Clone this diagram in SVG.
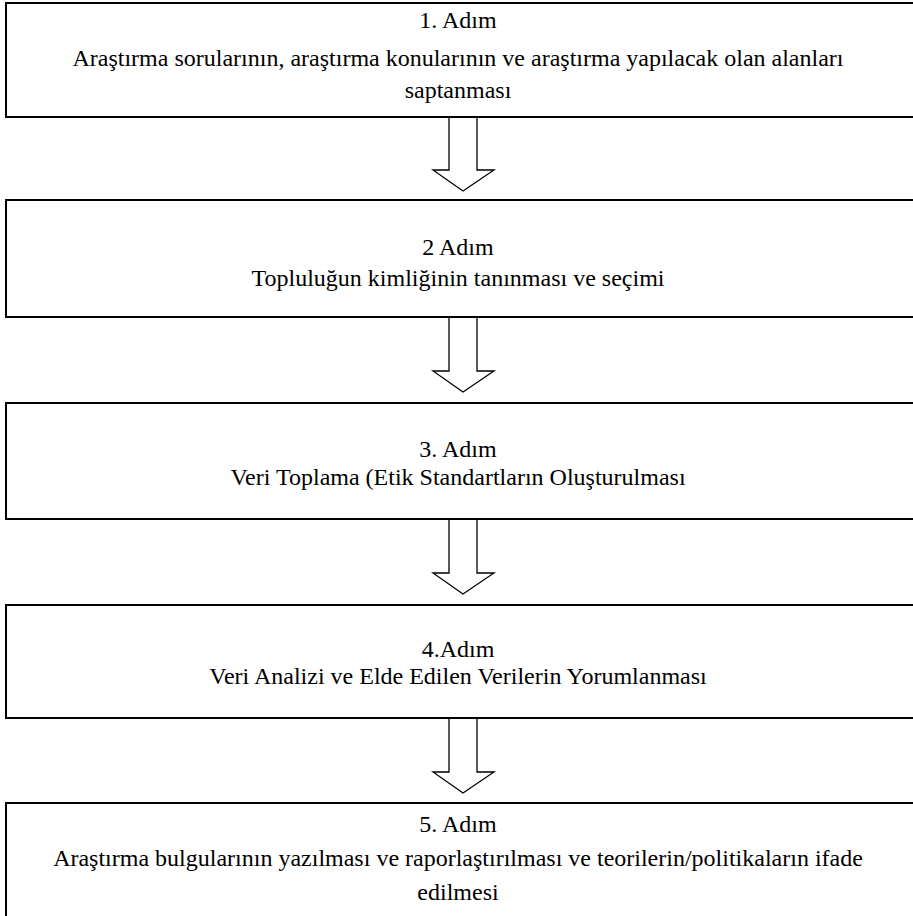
<svg xmlns="http://www.w3.org/2000/svg" width="913" height="916" viewBox="0 0 913 916">
  <style>
    .box { fill: #ffffff; stroke: #000000; stroke-width: 2; }
    .arrow { fill: #ffffff; stroke: #000000; stroke-width: 1.3; stroke-linejoin: miter; }
    text { font-family: "Liberation Serif", "Times New Roman", serif; font-size: 24px; fill: #000000; text-anchor: middle; }
  </style>
  <defs>
    <!-- hollow block arrow pointing down, origin at top centre of the shaft -->
    <path id="down" d="M -14 0 L -14 53 L -30 53 L 0 74 L 31 53 L 14 53 L 14 0"/>
  </defs>
  <rect width="913" height="916" fill="#ffffff"/>

  <g id="connectors">
    <use href="#down" class="arrow" x="463" y="117"/>
    <use href="#down" class="arrow" x="463" y="318"/>
    <use href="#down" class="arrow" x="463" y="520"/>
    <use href="#down" class="arrow" x="463" y="719"/>
  </g>

  <g id="step1">
    <rect class="box" x="6" y="3" width="910" height="114"/>
    <text x="458" y="28">1. Adım</text>
    <text x="458" y="66">Araştırma sorularının, araştırma konularının ve araştırma yapılacak olan alanları</text>
    <text x="458" y="98">saptanması</text>
  </g>

  <g id="step2">
    <rect class="box" x="6" y="200" width="910" height="117"/>
    <text x="458" y="255">2 Adım</text>
    <text x="458" y="286">Topluluğun kimliğinin tanınması ve seçimi</text>
  </g>

  <g id="step3">
    <rect class="box" x="6" y="403" width="910" height="116"/>
    <text x="458" y="457">3. Adım</text>
    <text x="458" y="485">Veri Toplama (Etik Standartların Oluşturulması</text>
  </g>

  <g id="step4">
    <rect class="box" x="6" y="605" width="910" height="113"/>
    <text x="458" y="657">4.Adım</text>
    <text x="458" y="684">Veri Analizi ve Elde Edilen Verilerin Yorumlanması</text>
  </g>

  <g id="step5">
    <rect class="box" x="6" y="803" width="910" height="120"/>
    <text x="458" y="832">5. Adım</text>
    <text x="458" y="866">Araştırma bulgularının yazılması ve raporlaştırılması ve teorilerin/politikaların ifade</text>
    <text x="458" y="900">edilmesi</text>
  </g>
</svg>
